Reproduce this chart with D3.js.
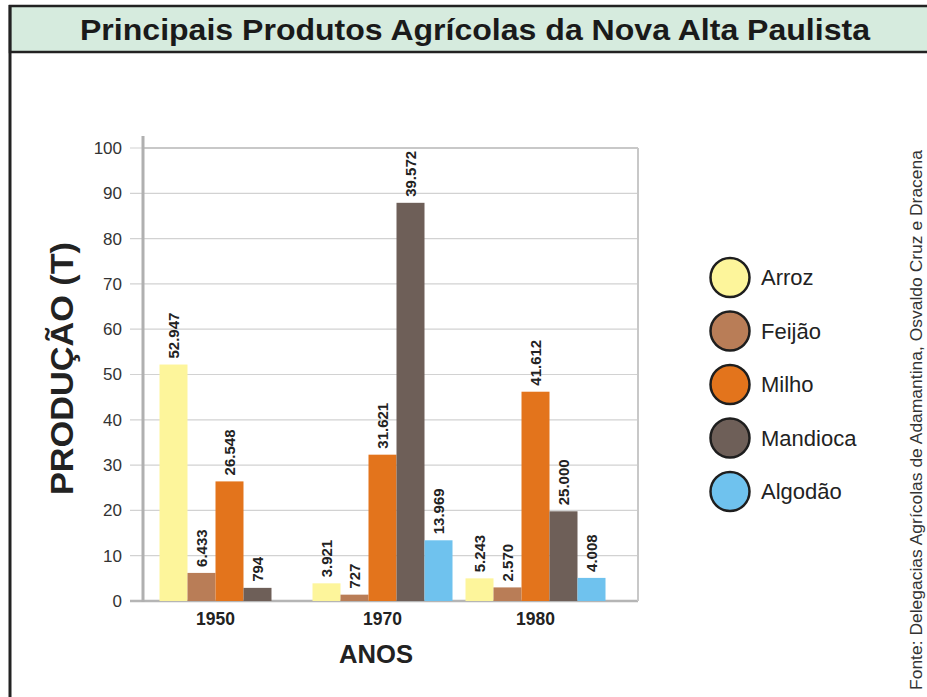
<!DOCTYPE html>
<html>
<head>
<meta charset="utf-8">
<script src="https://cdn.jsdelivr.net/npm/d3@7"></script>
<style>
  body { margin: 0; background: #fff; }
  svg { display: block; font-family: "Liberation Sans", Arial, sans-serif; }
</style>
</head>
<body>
<svg id="chart" width="927" height="697"></svg>
<script>
// data
var anos = ["1950", "1970", "1980"];
var produtos = ["Arroz", "Feijão", "Milho", "Mandioca", "Algodão"];
var cores = ["#fdf59b", "#b97d57", "#e3741c", "#6e5f58", "#6fc2ee"];
// bar heights as drawn on the 0-100 axis
var alturas = {
    "1950": [52.2, 6.2, 26.4, 2.9, 0],
    "1970": [3.9, 1.4, 32.3, 87.9, 13.4],
    "1980": [5.0, 3.0, 46.2, 19.8, 5.1]
};
// labels printed above the bars
var rotulos = {
    "1950": ["52.947", "6.433", "26.548", "794", ""],
    "1970": ["3.921", "727", "31.621", "39.572", "13.969"],
    "1980": ["5.243", "2.570", "41.612", "25.000", "4.008"]
};
var yTicks = [0, 10, 20, 30, 40, 50, 60, 70, 80, 90, 100];

var svg = d3.select("#chart");

// frame + header
svg.append("rect").attr("x", 0).attr("y", 0).attr("width", 927).attr("height", 697).attr("fill", "#fff");
svg.append("rect")
    .attr("x", 10).attr("y", 6).attr("width", 930).attr("height", 46)
    .attr("fill", "#d6ebde").attr("stroke", "#222").attr("stroke-width", 2.5);
svg.append("line").attr("x1", 10).attr("x2", 10).attr("y1", 5).attr("y2", 697)
    .attr("stroke", "#222").attr("stroke-width", 3);

svg.append("text")
    .attr("x", 475).attr("y", 40)
    .attr("text-anchor", "middle")
    .style("font-size", "30px").style("font-weight", "bold").attr("fill", "#1a1a1a")
    .attr("textLength", 790).attr("lengthAdjust", "spacingAndGlyphs")
    .text("Principais Produtos Agrícolas da Nova Alta Paulista");

var margin = { top: 148, left: 143, bottom: 96, right: 289 };
var width = 927 - margin.left - margin.right;
var height = 697 - margin.top - margin.bottom;

var y = d3.scaleLinear().domain([0, 100]).range([height, 0]);
var x0 = d3.scaleBand().domain(anos).range([16.5, 462.5]).paddingInner(0.085);
var x1 = d3.scaleBand().domain(produtos).range([0, x0.bandwidth()]);
var cor = d3.scaleOrdinal().domain(produtos).range(cores);

var g = svg.append("g").attr("transform", "translate(" + [margin.left, margin.top] + ")");

// grid lines
g.selectAll(".grid").data(yTicks).enter().append("line")
    .attr("x1", -13).attr("x2", width)
    .attr("y1", function (d) { return y(d); }).attr("y2", function (d) { return y(d); })
    .attr("stroke", function (d) { return d === 0 ? "#b5b5b5" : "#d2d2d2"; })
    .attr("stroke-width", function (d) { return d === 0 ? 2.5 : 1.2; });

// right + top frame
g.append("line").attr("x1", width).attr("x2", width).attr("y1", 0).attr("y2", height)
    .attr("stroke", "#c8c8c8").attr("stroke-width", 2);
g.append("line").attr("x1", 0).attr("x2", width).attr("y1", 0).attr("y2", 0)
    .attr("stroke", "#c8c8c8").attr("stroke-width", 2);

// y axis (labels only, lines drawn as grid)
var yAxis = d3.axisLeft(y).tickValues(yTicks).tickSize(0).tickPadding(21);
var ya = g.append("g").call(yAxis);
ya.select(".domain").remove();
ya.selectAll("text").style("font-size", "17px").attr("fill", "#333").attr("font-family", "Liberation Sans, Arial, sans-serif");

g.append("line").attr("x1", 0).attr("x2", 0).attr("y1", -12).attr("y2", height + 1)
    .attr("stroke", "#b0b0b0").attr("stroke-width", 3);

// bars
var grupos = g.selectAll(".grupo").data(anos).enter().append("g")
    .attr("transform", function (d) { return "translate(" + x0(d) + ",0)"; });

function linhas(a) {
    return produtos.map(function (p, i) { return { ano: a, p: p, v: alturas[a][i], r: rotulos[a][i] }; });
}

grupos.selectAll("rect")
    .data(linhas)
    .enter().append("rect")
    .attr("x", function (d) { return x1(d.p); })
    .attr("width", x1.bandwidth())
    .attr("y", function (d) { return y(d.v); })
    .attr("height", function (d) { return y(0) - y(d.v); })
    .attr("fill", function (d) { return cor(d.p); });

grupos.selectAll(".rot")
    .data(linhas)
    .enter().append("text")
    .attr("transform", function (d) {
        return "translate(" + (x1(d.p) + x1.bandwidth() / 2 + 5.5) + "," + (y(d.v) - 6) + ") rotate(-90)";
    })
    .style("font-size", "15px").style("font-weight", "bold").attr("fill", "#222")
    .text(function (d) { return d.r; });

// x labels: centre of the drawn bars
grupos.append("text")
    .attr("x", function (a) {
        var n = alturas[a].filter(function (v) { return v > 0; }).length;
        return x1.bandwidth() * n / 2;
    })
    .attr("y", height + 24)
    .attr("text-anchor", "middle")
    .style("font-size", "17.5px").style("font-weight", "bold").attr("fill", "#222")
    .text(function (a) { return a; });

// axis titles
svg.append("text")
    .attr("x", 376).attr("y", 663)
    .attr("text-anchor", "middle")
    .style("font-size", "25px").style("font-weight", "bold").attr("fill", "#222")
    .attr("textLength", 74).attr("lengthAdjust", "spacingAndGlyphs")
    .text("ANOS");

svg.append("text")
    .attr("transform", "translate(" + 73 + "," + 368.5 + ") rotate(-90)")
    .attr("text-anchor", "middle")
    .style("font-size", "32px").style("font-weight", "bold").attr("fill", "#222")
    .attr("textLength", 253).attr("lengthAdjust", "spacingAndGlyphs")
    .text("PRODUÇÃO (T)");

// legend
var leg = svg.selectAll(".leg").data(produtos).enter().append("g")
    .attr("transform", function (d, i) { return "translate(730," + (277.5 + i * 53.5) + ")"; });
leg.append("circle").attr("r", 19.5)
    .attr("fill", function (d) { return cor(d); })
    .attr("stroke", "#1e1e1e").attr("stroke-width", 2.5);
leg.append("text").attr("x", 31).attr("y", 7.5)
    .style("font-size", "22px").attr("fill", "#222")
    .text(function (d) { return d; });

// source
svg.append("text")
    .attr("transform", "translate(" + 922 + "," + 690 + ") rotate(-90)")
    .style("font-size", "16px").attr("fill", "#333")
    .attr("textLength", 540).attr("lengthAdjust", "spacingAndGlyphs")
    .text("Fonte: Delegacias Agrícolas de Adamantina, Osvaldo Cruz e Dracena");
</script>
</body>
</html>
